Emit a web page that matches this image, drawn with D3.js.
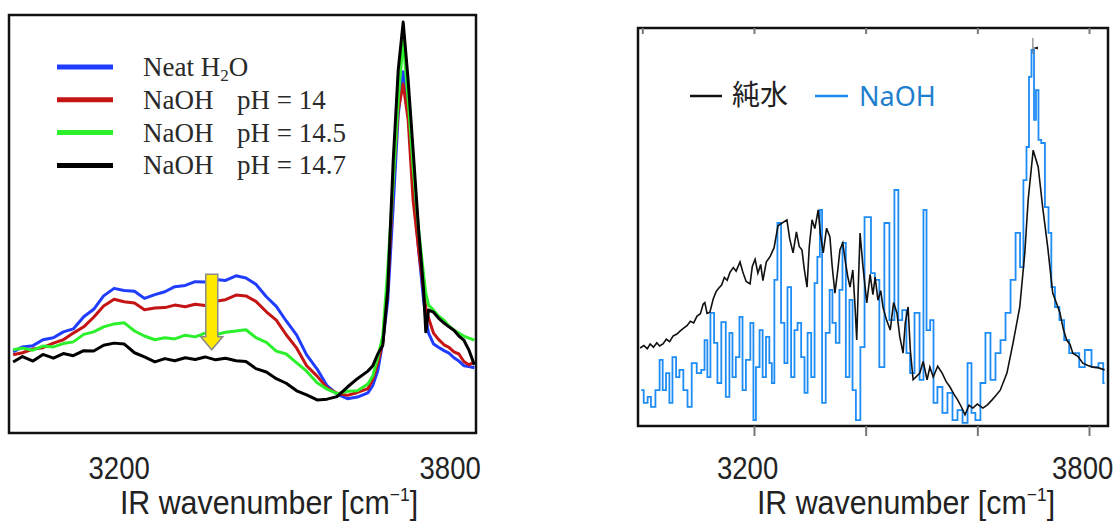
<!DOCTYPE html>
<html>
<head>
<meta charset="utf-8">
<script src="https://cdn.jsdelivr.net/npm/d3@7/dist/d3.min.js"></script>
<style>
  body { margin: 0; background: #fff; }
</style>
</head>
<body>
<svg id="chart"></svg>
<script>
// ---- left panel: SFG spectra, neat water vs NaOH ----
const leftWn = [3001, 3018, 3037, 3055, 3074, 3092, 3110, 3129, 3147, 3165, 3184, 3202, 3221, 3239, 3258, 3276, 3294, 3313, 3331, 3349,
  3368, 3386, 3405, 3423, 3441, 3460, 3478, 3496, 3515, 3533, 3552, 3570, 3588, 3607, 3625, 3644, 3653, 3662, 3671, 3680,
  3690, 3699, 3708, 3717, 3726, 3736, 3745, 3749, 3754, 3763, 3772, 3782, 3791, 3800, 3809, 3818, 3827, 3837];
const neatH2O = [19.4, 20.6, 20.9, 22.3, 22.8, 24.2, 24.9, 27.8, 29.6, 32.8, 34.6, 34.1, 33.9, 32.2, 33.1, 33.8, 35.0, 35.3, 36.2, 36.1,
  36.7, 36.5, 37.6, 37.1, 35.6, 32.6, 30.3, 26.8, 23.4, 18.7, 15.3, 11.3, 9.3, 8.2, 8.6, 9.6, 11.4, 14.9, 21.7, 31.6,
  54.5, 76.1, 86.4, 77.3, 59.8, 43.8, 31.8, 27.5, 23.9, 21.3, 20.5, 19.7, 19.1, 18.0, 17.2, 16.1, 15.9, 15.6];
const naohPh14 = [18.7, 19.2, 20.1, 20.4, 21.5, 22.3, 23.9, 25.4, 27.7, 30.4, 32.0, 31.4, 31.1, 29.5, 29.9, 30.0, 30.6, 30.2, 30.8, 30.5,
  31.5, 31.9, 33.0, 32.8, 31.5, 29.0, 27.0, 23.5, 20.3, 16.1, 13.6, 10.8, 9.5, 9.0, 9.7, 10.6, 12.9, 16.8, 21.7, 34.2,
  60.5, 77.3, 83.5, 74.9, 55.7, 43.8, 34.2, 30.0, 27.5, 23.9, 22.4, 21.1, 20.5, 19.4, 18.9, 17.1, 16.3, 17.0];
const naohPh145 = [19.9, 20.3, 19.8, 20.8, 20.6, 21.4, 21.8, 23.6, 24.2, 25.4, 26.1, 26.4, 24.4, 23.2, 22.3, 22.8, 22.5, 23.4, 23.0, 23.9,
  23.5, 24.1, 24.4, 24.7, 22.8, 21.7, 19.6, 18.9, 16.8, 14.8, 12.0, 10.5, 9.4, 10.0, 10.1, 11.7, 13.7, 18.1, 23.2, 39.0,
  60.5, 79.7, 94.0, 79.7, 63.6, 48.6, 37.8, 33.5, 30.6, 29.4, 28.0, 27.0, 25.6, 24.6, 23.9, 23.2, 22.7, 22.2];
const naohPh147 = [17.0, 18.3, 17.2, 18.8, 17.9, 19.0, 18.5, 19.7, 19.6, 21.0, 21.5, 21.3, 19.2, 18.2, 17.0, 17.8, 17.3, 18.0, 17.6, 18.2,
  17.5, 17.9, 17.3, 17.1, 15.4, 14.6, 13.0, 11.9, 10.1, 9.1, 7.9, 8.1, 8.7, 11.0, 13.0, 14.8, 16.1, 18.9, 21.0, 34.2,
  65.3, 86.8, 98.3, 84.4, 67.7, 48.6, 34.2, 24.2, 29.4, 28.9, 27.5, 26.3, 25.4, 24.6, 23.2, 22.2, 19.9, 16.3];
const leftLabels = ['Neat H2O', 'NaOH pH = 14', 'NaOH pH = 14.5', 'NaOH pH = 14.7'];

// ---- right panel: pure water vs NaOH ----
const pureWn = [2996, 3003, 3009, 3014, 3020, 3026, 3031, 3037, 3043, 3049, 3055, 3062, 3068, 3074, 3080, 3086, 3092, 3098, 3104, 3109,
  3112, 3116, 3121, 3127, 3132, 3136, 3142, 3147, 3152, 3157, 3163, 3168, 3175, 3180, 3186, 3193, 3197, 3202, 3207, 3212,
  3216, 3222, 3229, 3236, 3243, 3259, 3264, 3270, 3276, 3281, 3286, 3290, 3295, 3299, 3304, 3309, 3315, 3319, 3324, 3330,
  3336, 3340, 3345, 3350, 3354, 3359, 3364, 3368, 3372, 3377, 3381, 3384, 3387, 3390, 3395, 3402, 3408, 3413, 3417, 3422,
  3427, 3431, 3437, 3444, 3450, 3456, 3461, 3467, 3471, 3476, 3480, 3485, 3497, 3503, 3510, 3515, 3521, 3529, 3537, 3544,
  3551, 3558, 3565, 3571, 3578, 3585, 3592, 3600, 3610, 3618, 3626, 3634, 3641, 3653, 3664, 3676, 3685, 3691, 3700, 3709,
  3717, 3726, 3735, 3742, 3748, 3754, 3760, 3766, 3771, 3780, 3789, 3798, 3807, 3817, 3828];
const pureVal = [19.6, 20.2, 19.4, 20.6, 19.8, 20.9, 20.1, 20.6, 21.8, 21.2, 22.6, 23.1, 23.9, 24.6, 25.2, 26.3, 25.9, 27.6, 28.2, 30.6,
  31.0, 28.3, 28.6, 31.9, 33.7, 34.5, 35.4, 37.3, 36.6, 38.6, 39.8, 38.9, 41.2, 38.7, 36.3, 35.7, 40.1, 41.9, 38.4, 40.6,
  36.5, 41.2, 42.6, 44.8, 50.3, 51.8, 47.0, 43.5, 48.8, 45.1, 44.2, 39.5, 34.9, 45.0, 51.8, 49.6, 54.3, 48.2, 43.5, 49.7,
  47.5, 40.2, 33.4, 39.1, 44.3, 46.0, 41.0, 37.5, 34.9, 39.2, 30.0, 21.6, 36.0, 48.5, 40.3, 30.9, 38.1, 33.0, 37.4, 31.6,
  34.0, 29.9, 26.8, 24.1, 31.0, 28.4, 22.5, 18.3, 26.0, 29.9, 19.0, 11.6, 13.3, 16.2, 11.6, 14.8, 12.3, 15.0, 13.3, 11.2,
  9.8, 8.0, 6.5, 4.9, 2.8, 5.2, 4.5, 5.5, 4.5, 5.3, 6.5, 7.8, 9.0, 13.3, 20.9, 29.9, 43.5, 56.8, 69.3, 65.1,
  55.0, 45.0, 33.4, 30.8, 28.4, 24.3, 21.6, 20.5, 18.3, 17.5, 15.8, 15.2, 14.8, 14.6, 14.1];
const naohWn = [2998, 3007, 3012, 3019, 3028, 3034, 3039, 3046, 3051, 3057, 3064, 3069, 3078, 3084, 3093, 3102, 3109, 3114, 3119, 3125,
  3132, 3137, 3146, 3153, 3159, 3164, 3171, 3177, 3182, 3189, 3198, 3200, 3207, 3213, 3218, 3225, 3230, 3234, 3239, 3245,
  3252, 3257, 3263, 3270, 3275, 3281, 3288, 3293, 3299, 3306, 3311, 3316, 3320, 3324, 3333, 3338, 3343, 3350, 3356, 3361,
  3368, 3374, 3379, 3386, 3395, 3401, 3406, 3413, 3420, 3429, 3438, 3447, 3456, 3461, 3470, 3476, 3483, 3492, 3501, 3506,
  3512, 3519, 3524, 3533, 3542, 3551, 3560, 3569, 3578, 3587, 3592, 3601, 3610, 3619, 3628, 3637, 3646, 3655, 3664, 3673,
  3680, 3685, 3691, 3694, 3700, 3703, 3707, 3712, 3717, 3725, 3730, 3735, 3743, 3751, 3760, 3769, 3778, 3787, 3798, 3811,
  3823, 3828];
const naohVal = [9.0, 5.8, 7.3, 4.8, 9.0, 16.6, 9.0, 13.3, 5.8, 17.3, 12.3, 14.1, 9.0, 4.8, 15.8, 13.3, 14.1, 21.6, 12.3, 28.4,
  20.9, 10.8, 26.1, 7.3, 23.4, 12.3, 17.3, 27.4, 9.0, 16.6, 25.9, 1.5, 14.8, 24.1, 12.3, 22.4, 15.8, 10.8, 36.7, 51.0,
  25.9, 15.8, 34.9, 12.3, 24.1, 25.9, 17.3, 8.3, 23.4, 12.3, 35.9, 42.5, 54.3, 5.8, 23.4, 34.2, 25.9, 20.9, 34.2, 46.0,
  12.3, 31.7, 9.0, 1.5, 19.8, 52.5, 52.5, 38.4, 36.7, 14.8, 51.0, 26.6, 59.3, 26.6, 29.1, 18.3, 13.3, 28.4, 11.6, 54.3,
  24.1, 26.6, 5.8, 9.8, 3.3, 8.3, 1.5, 4.0, 0.8, 15.8, 3.3, 1.5, 10.8, 23.4, 11.6, 18.3, 21.6, 28.4, 36.7, 48.5,
  39.9, 61.8, 70.1, 87.7, 94.5, 76.9, 84.4, 71.9, 71.1, 55.0, 48.5, 34.9, 29.9, 26.6, 21.6, 18.3, 18.3, 14.8, 19.1, 14.8,
  15.8, 10.8];

const labelTicks = [3200, 3800];
const rightTicks = [3000, 3200, 3400, 3600, 3800];

const W = 1116, H = 525;
const svg = d3.select('#chart').attr('width', W).attr('height', H);

const leftBox = { x0: 9, x1: 476, y0: 15, y1: 433 };
const rightBox = { x0: 638, x1: 1108, y0: 28, y1: 426 };

const xL = d3.scaleLinear().domain([2993.5, 3840]).range([leftBox.x0, leftBox.x1]);
const yL = d3.scaleLinear().domain([0, 100]).range([leftBox.y1, leftBox.y0]);
const xR = d3.scaleLinear().domain([2992.3, 3834]).range([rightBox.x0, rightBox.x1]);
const yR = d3.scaleLinear().domain([0, 100]).range([rightBox.y1, rightBox.y0]);

const defs = svg.append('defs');
defs.append('clipPath').attr('id', 'clipL').append('rect')
  .attr('x', leftBox.x0).attr('y', leftBox.y0)
  .attr('width', leftBox.x1 - leftBox.x0).attr('height', leftBox.y1 - leftBox.y0);
defs.append('clipPath').attr('id', 'clipR').append('rect')
  .attr('x', rightBox.x0).attr('y', rightBox.y0)
  .attr('width', rightBox.x1 - rightBox.x0).attr('height', rightBox.y1 - rightBox.y0);

// left curves
const leftColors = ['#1f3cff', '#c41414', '#2cf02c', '#000000'];
const leftSeries = [neatH2O, naohPh14, naohPh145, naohPh147];
const lineL = d3.line().x(d => xL(d[0])).y(d => yL(d[1]));
const gL = svg.append('g').attr('clip-path', 'url(#clipL)');
leftSeries.forEach((vals, i) => {
  gL.append('path')
    .datum(leftWn.map((w, j) => [w, vals[j]]))
    .attr('d', lineL)
    .attr('fill', 'none')
    .attr('stroke', leftColors[i])
    .attr('stroke-width', 3)
    .attr('stroke-linejoin', 'round');
});

// yellow arrow (decrease with pH)
const ax = xL(3361), aTop = yL(38.0), aBot = yL(19.9);
svg.append('path')
  .attr('d', `M${ax - 6},${aTop} L${ax + 6},${aTop} L${ax + 6},${aBot - 13} L${ax + 11},${aBot - 13}
    L${ax},${aBot} L${ax - 11},${aBot - 13} L${ax - 6},${aBot - 13} Z`)
  .attr('fill', '#ffea00').attr('stroke', '#8a8a8a').attr('stroke-width', 1.5);

svg.append('rect')
  .attr('x', leftBox.x0).attr('y', leftBox.y0)
  .attr('width', leftBox.x1 - leftBox.x0).attr('height', leftBox.y1 - leftBox.y0)
  .attr('fill', 'none').attr('stroke', '#111').attr('stroke-width', 2.5);

// left legend
const serif = '"Liberation Serif", "Times New Roman", serif';
const legL = svg.append('g').attr('font-family', serif).attr('font-size', 27).attr('fill', '#2a2a2a');
leftLabels.forEach((lab, i) => {
  const y = 67 + i * 32.8;
  legL.append('line').attr('x1', 57).attr('x2', 113).attr('y1', y).attr('y2', y)
    .attr('stroke', leftColors[i]).attr('stroke-width', 5);
  const t = legL.append('text').attr('x', 143).attr('y', y + 9);
  if (i === 0) {
    t.append('tspan').text('Neat H');
    t.append('tspan').attr('font-size', 17).attr('dy', 5).text('2');
    t.append('tspan').attr('dy', -5).text('O');
  } else {
    const parts = lab.split(' pH');
    t.text(parts[0]);
    legL.append('text').attr('x', 237).attr('y', y + 9).text('pH' + parts[1]);
  }
});

// right curves
const gR = svg.append('g').attr('clip-path', 'url(#clipR)');
gR.append('path')
  .datum(naohWn.map((w, j) => [w, naohVal[j]]))
  .attr('d', d3.line().x(d => xR(d[0])).y(d => yR(d[1])).curve(d3.curveStep))
  .attr('fill', 'none').attr('stroke', '#1e8cf5').attr('stroke-width', 1.8);
gR.append('path')
  .datum(pureWn.map((w, j) => [w, pureVal[j]]))
  .attr('d', d3.line().x(d => xR(d[0])).y(d => yR(d[1])))
  .attr('fill', 'none').attr('stroke', '#111').attr('stroke-width', 1.6);

// small marker above the NaOH peak
svg.append('line')
  .attr('x1', xR(3699.5)).attr('x2', xR(3699.5)).attr('y1', yR(97.5)).attr('y2', yR(93.5))
  .attr('stroke', '#666').attr('stroke-width', 1);
svg.append('path')
  .attr('d', `M${xR(3699.5)},${yR(95)} l5,-1.5 l0,3 Z`).attr('fill', '#111');

svg.append('rect')
  .attr('x', rightBox.x0).attr('y', rightBox.y0)
  .attr('width', rightBox.x1 - rightBox.x0).attr('height', rightBox.y1 - rightBox.y0)
  .attr('fill', 'none').attr('stroke', '#111').attr('stroke-width', 2.5);

// right ticks (top inside, bottom outside)
const topAxis = svg.append('g').attr('transform', `translate(0,${rightBox.y0})`)
  .call(d3.axisTop(xR).tickValues(rightTicks).tickSize(-6).tickFormat(''));
const botAxis = svg.append('g').attr('transform', `translate(0,${rightBox.y1})`)
  .call(d3.axisBottom(xR).tickValues(rightTicks.slice(1)).tickSize(10).tickFormat(''));
[topAxis, botAxis].forEach(a => {
  a.select('.domain').remove();
  a.selectAll('.tick line').attr('stroke', '#777').attr('stroke-width', 2);
});

// right legend
const legR = svg.append('g');
legR.append('line').attr('x1', 690).attr('x2', 722).attr('y1', 96).attr('y2', 96)
  .attr('stroke', '#111').attr('stroke-width', 2.5);
legR.append('text').attr('x', 732).attr('y', 105)
  .attr('font-family', '"Noto Sans CJK JP", "Noto Sans CJK SC", sans-serif')
  .attr('font-size', 28).attr('fill', '#222').text('純水');
legR.append('line').attr('x1', 815).attr('x2', 848).attr('y1', 96).attr('y2', 96)
  .attr('stroke', '#1e8cf5').attr('stroke-width', 2.5);
legR.append('text').attr('x', 859).attr('y', 106)
  .attr('font-family', '"Noto Sans", sans-serif')
  .attr('font-size', 27).attr('fill', '#1f7fcf').text('NaOH');

// x tick labels and titles (narrowed sans, like the source)
const sans = '"Liberation Sans", Arial, sans-serif';
function labelAxis(x, y0, dx) {
  const g = svg.append('g').attr('transform', `translate(0,${y0})`)
    .call(d3.axisBottom(x).tickValues(labelTicks).tickSize(0).tickPadding(0).tickFormat(d3.format('d')));
  g.select('.domain').remove();
  g.selectAll('.tick text')
    .attr('font-family', sans).attr('font-size', 32).attr('fill', '#222')
    .attr('dy', 0).attr('y', 0).attr('x', dx)
    .attr('transform', 'scale(0.86,1)');
  return g;
}
labelAxis(xL, 479, -5);
labelAxis(xR, 479, -8);

function title(cx) {
  const t = svg.append('text').attr('x', 0).attr('y', 0)
    .attr('transform', `translate(${cx},514) scale(0.92,1)`)
    .attr('text-anchor', 'middle').attr('font-family', sans)
    .attr('font-size', 33).attr('fill', '#222');
  t.append('tspan').text('IR wavenumber [cm');
  t.append('tspan').attr('font-size', 19).attr('dy', -13).text('−1');
  t.append('tspan').attr('dy', 13).text(']');
}
title(269);
title(906);
</script>
</body>
</html>
